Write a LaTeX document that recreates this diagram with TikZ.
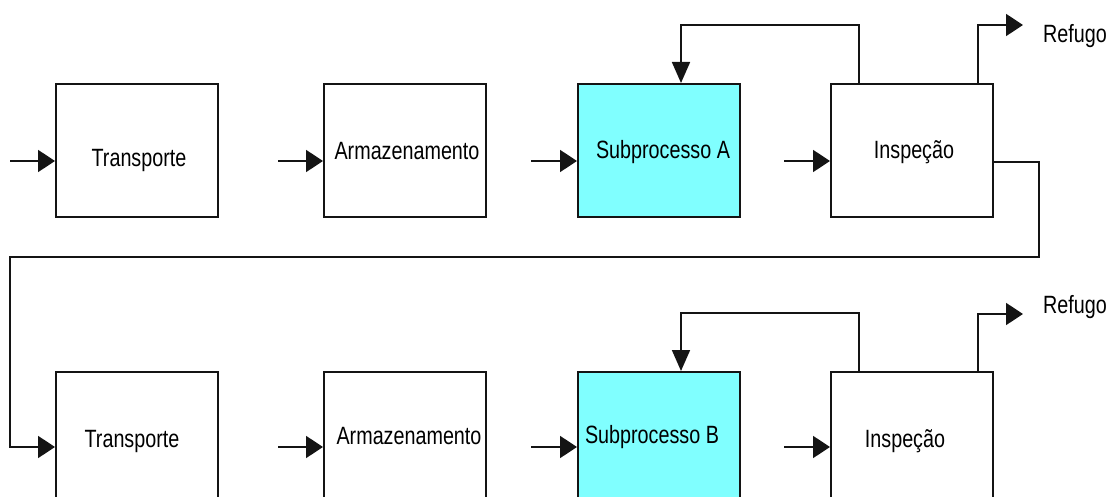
\documentclass[tikz,border=0pt]{standalone}
\usepackage{fontspec}
\newfontfamily\diafont{Liberation Sans}[FakeStretch=0.79]
\usetikzlibrary{arrows.meta,calc}
\definecolor{subcyan}{RGB}{128,255,255}
\definecolor{lineblack}{RGB}{20,20,20}
\tikzset{
  box/.style={draw=lineblack, line width=1.8pt, fill=white, minimum width=162pt, minimum height=133pt, inner sep=0pt, anchor=north west},
  subbox/.style={box, fill=subcyan},
  lbl/.style={font=\diafont\fontsize{25}{30}\selectfont, inner sep=0pt, anchor=base},
  conn/.style={draw=lineblack, line width=1.8pt},
  harrow/.style={conn, -{Triangle[length=17pt,width=22pt]}},
  varrow/.style={conn, -{Triangle[length=21pt,width=18pt]}}
}
\begin{document}
\begin{tikzpicture}[x=1pt,y=-1pt]
\useasboundingbox (0,0) rectangle (1117,497);
\clip (0,0) rectangle (1117,497);
% top row boxes
\node[box]    (t1) at (55,83)  {};
\node[box]    (a1) at (323,83) {};
\node[subbox] (s1) at (577,83) {};
\node[box]    (i1) at (830,83) {};
% bottom row boxes
\node[box]    (t2) at (55,371)  {};
\node[box]    (a2) at (323,371) {};
\node[subbox] (s2) at (577,371) {};
\node[box]    (i2) at (830,371) {};
% labels
\node[lbl] (lt1) at (139,167) {Transporte};
\node[lbl] (la1) at (407,160) {Armazenamento};
\node[lbl] (ls1) at (663,159) {Subprocesso A};
\node[lbl] (li1) at (914,159) {Inspeção};
\node[lbl] (lt2) at (132,447) {Transporte};
\node[lbl] (la2) at (409,444) {Armazenamento};
\node[lbl] (ls2) at (652,443) {Subprocesso B};
\node[lbl] (li2) at (905,447) {Inspeção};
\node[lbl, anchor=base west] (r1) at (1043,43) {Refugo};
\node[lbl, anchor=base west] (r2) at (1043,313) {Refugo};
% coordinates top row
\coordinate (in1) at (10,161);
\coordinate (in2) at (278,161);
\coordinate (in3) at (531,161);
\coordinate (in4) at (784,161);
\coordinate (fa1) at (859,25);
\coordinate (fb1) at (681,25);
\coordinate (ra1) at (978,25);
\coordinate (rt1) at (1023,25);
% output loop
\coordinate (o1) at (1039,162);
\coordinate (o2) at (1039,257);
\coordinate (o3) at (10,257);
\coordinate (o4) at (10,447);
% coordinates bottom row
\coordinate (jn2) at (278,447);
\coordinate (jn3) at (531,447);
\coordinate (jn4) at (784,447);
\coordinate (fa2) at (859,313);
\coordinate (fb2) at (681,313);
\coordinate (ra2) at (978,314);
\coordinate (rt2) at (1023,314);
% top row connectors
\draw[harrow] (in1) -- (in1 -| t1.west);
\draw[harrow] (in2) -- (in2 -| a1.west);
\draw[harrow] (in3) -- (in3 -| s1.west);
\draw[harrow] (in4) -- (in4 -| i1.west);
\draw[varrow] (i1.north -| fa1) -- (fa1) -- (fb1) -- (fb1 |- s1.north);
\draw[harrow] (i1.north -| ra1) -- (ra1) -- (rt1);
\draw[harrow] (i1.east |- o1) -- (o1) -- (o2) -- (o3) -- (o4) -- (o4 -| t2.west);
% bottom row connectors
\draw[harrow] (jn2) -- (jn2 -| a2.west);
\draw[harrow] (jn3) -- (jn3 -| s2.west);
\draw[harrow] (jn4) -- (jn4 -| i2.west);
\draw[varrow] (i2.north -| fa2) -- (fa2) -- (fb2) -- (fb2 |- s2.north);
\draw[harrow] (i2.north -| ra2) -- (ra2) -- (rt2);
\end{tikzpicture}
\end{document}
